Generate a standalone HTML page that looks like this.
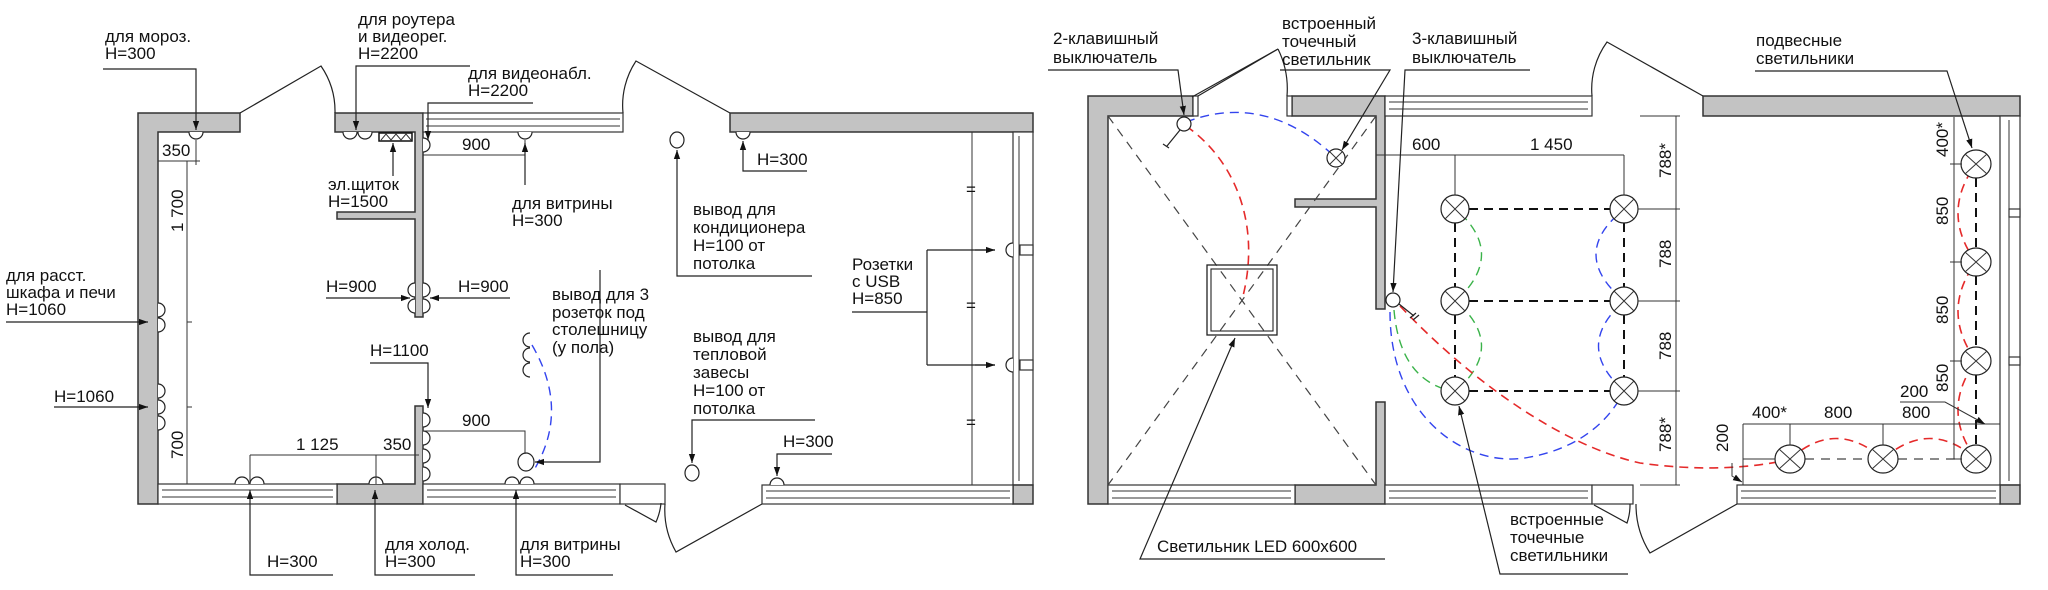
<!DOCTYPE html>
<html><head><meta charset="utf-8"><style>
html,body{margin:0;padding:0;background:#fff;}
svg{display:block;}
text{font-family:"Liberation Sans",sans-serif;font-size:17px;fill:#111;}
.w{fill:#c3c3c3;stroke:#333;stroke-width:1.5;}
.l{stroke:#222;stroke-width:1.2;fill:none;}
.t{stroke:#333;stroke-width:1;fill:none;}
.win{fill:#fff;stroke:#333;stroke-width:1.2;}
.gd{stroke:#444;stroke-width:1.2;stroke-dasharray:9,7;fill:none;}
.bd{stroke:#111;stroke-width:2;stroke-dasharray:9,6;fill:none;}
.rd{stroke:#e52a2a;stroke-width:1.6;stroke-dasharray:9,6;fill:none;}
.bl{stroke:#3344ee;stroke-width:1.4;stroke-dasharray:9,6;fill:none;}
.gr{stroke:#3bb34a;stroke-width:1.4;stroke-dasharray:9,6;fill:none;}
.s{stroke:#222;stroke-width:1.2;fill:#fff;}
</style></head><body>
<svg width="2048" height="590" viewBox="0 0 2048 590" xmlns="http://www.w3.org/2000/svg">
<defs>
<marker id="a" viewBox="0 0 10 10" refX="10" refY="5" markerWidth="9" markerHeight="9" orient="auto-start-reverse" markerUnits="userSpaceOnUse"><path d="M0,1.5 L10,5 L0,8.5z" fill="#111"/></marker>
</defs>

<!-- ================= LEFT PLAN ================= -->
<polygon class="w" points="138,113 240,113 240,132 158,132 158,504 138,504"/>
<polygon class="w" points="335,113 423,113 423,317 415,317 415,219 337,219 337,212 415,212 415,132 335,132"/>
<polygon class="w" points="415,406 423,406 423,504 337,504 337,484 415,484"/>
<!-- windows -->
<rect class="win" x="423" y="113" width="200" height="19"/><line class="t" x1="426" y1="119" x2="620" y2="119"/><line class="t" x1="426" y1="126" x2="620" y2="126"/>
<rect class="win" x="158" y="484" width="179" height="20"/><line class="t" x1="162" y1="490" x2="333" y2="490"/><line class="t" x1="162" y1="497" x2="333" y2="497"/>
<rect class="win" x="423" y="484" width="197" height="20"/><line class="t" x1="427" y1="490" x2="616" y2="490"/><line class="t" x1="427" y1="497" x2="616" y2="497"/>
<rect class="win" x="620" y="484" width="45" height="20"/>
<!-- doors -->
<path class="l" d="M240,113 L321,66 A80,80 0 0 1 335,113"/>
<path class="l" d="M623,113 A80,80 0 0 1 636,61 L730,113"/>
<path class="l" d="M625,505 L656,522 A60,60 0 0 0 661,503 M665,504 A85,85 0 0 0 676,552 L762,504"/>
<!-- right room -->
<rect class="w" x="730" y="113" width="303" height="19"/>
<rect class="win" x="1013" y="132" width="20" height="353"/><line class="t" x1="1019" y1="136" x2="1019" y2="481"/>
<rect class="w" x="1013" y="485" width="20" height="19"/>
<rect class="win" x="762" y="485" width="251" height="19"/><line class="t" x1="766" y1="491" x2="1010" y2="491"/><line class="t" x1="766" y1="498" x2="1010" y2="498"/>
<rect class="win" x="1020" y="245" width="13" height="10"/><rect class="win" x="1020" y="360" width="13" height="10"/>

<!-- sockets top -->
<path class="s" d="M189,132 A7,7 0 0 0 203,132"/>
<path class="s" d="M343,132 A7,7 0 0 0 357,132 M358,132 A7,7 0 0 0 372,132"/>
<path class="s" d="M518,132 A7,7 0 0 0 532,132"/>
<path class="s" d="M736,132 A7,7 0 0 0 750,132"/>
<path class="s" d="M423,138 A7,7 0 0 1 423,152"/>
<!-- panel -->
<rect x="379" y="133" width="33" height="8" fill="#fff" stroke="#111" stroke-width="1.5"/>
<path class="t" d="M381,140 l5,-6 l5,6 l5,-6 l5,6 l5,-6 l5,6"/>
<!-- left wall sockets -->
<path class="s" d="M158,303 A7,7 0 0 1 158,317 M158,318 A7,7 0 0 1 158,332"/>
<path class="s" d="M158,384 A7,7 0 0 1 158,398 M158,400 A7,7 0 0 1 158,414 M158,416 A7,7 0 0 1 158,430"/>
<!-- partition end sockets -->
<path class="s" d="M415,283 A7,7 0 0 0 415,297 M415,299 A7,7 0 0 0 415,313 M423,283 A7,7 0 0 1 423,297 M423,299 A7,7 0 0 1 423,313"/>
<path class="s" d="M423,413 A7,7 0 0 1 423,427 M423,431 A7,7 0 0 1 423,445 M423,449 A7,7 0 0 1 423,463 M423,467 A7,7 0 0 1 423,481"/>
<!-- bottom sockets -->
<path class="s" d="M235,484 A7,7 0 0 1 249,484 M250,484 A7,7 0 0 1 264,484"/>
<path class="s" d="M369,484 A7,7 0 0 1 383,484"/>
<path class="s" d="M505,484 A7,7 0 0 1 519,484 M520,484 A7,7 0 0 1 534,484"/>
<path class="s" d="M770,485 A7,7 0 0 1 784,485"/>
<!-- 3 sockets floating -->
<path class="s" d="M530,333 A7,7 0 0 0 530,347 M530,348 A7,7 0 0 0 530,362 M530,363 A7,7 0 0 0 530,377"/>
<!-- right wall sockets -->
<path class="s" d="M1013,243 A7,7 0 0 0 1013,257 M1013,358 A7,7 0 0 0 1013,372"/>
<!-- outlets -->
<ellipse class="s" cx="677" cy="140" rx="7" ry="8"/>
<ellipse class="s" cx="692" cy="473" rx="7" ry="8"/>
<ellipse class="s" cx="526" cy="462" rx="8" ry="9"/>
<path class="bl" d="M532,345 Q570,410 534,470"/>

<!-- dims left -->
<path class="t" d="M158,161 L200,161 M196,140 L196,165 M187,161 L187,484 M187,322 L192,322 M187,407 L192,407 M158,484 L192,484"/>
<text x="162" y="156" font-size="14">350</text>
<text transform="translate(183,232) rotate(-90)" font-size="14">1 700</text>
<text transform="translate(183,459) rotate(-90)" font-size="14">700</text>
<path class="t" d="M423,155 L525,155 M525,140 L525,160"/>
<text x="462" y="150" font-size="14">900</text>
<path class="t" d="M423,431 L525,431 L525,454"/>
<text x="462" y="426" font-size="14">900</text>
<path class="t" d="M250,455 L419,455 M250,455 L250,484 M376,455 L376,484"/>
<text x="296" y="450" font-size="14">1 125</text><text x="383" y="450" font-size="14">350</text>
<!-- dims right room -->
<path class="t" d="M972,132 L972,485 M965,132 L985,132 M965,485 L985,485"/>
<text x="966" y="195" font-size="10">=</text><text x="966" y="311" font-size="10">=</text><text x="966" y="428" font-size="10">=</text>

<!-- leaders left -->
<path class="l" d="M103,69 L196,69 L196,130" marker-end="url(#a)"/>
<text x="105" y="42">для мороз.</text><text x="105" y="59">H=300</text>
<path class="l" d="M470,66 L356,66 L356,130" marker-end="url(#a)"/>
<text x="358" y="25">для роутера</text><text x="358" y="42">и видеорег.</text><text x="358" y="59">H=2200</text>
<path class="l" d="M533,103 L428,103 L428,140" marker-end="url(#a)"/>
<text x="468" y="79">для видеонабл.</text><text x="468" y="96">H=2200</text>
<path class="l" d="M393,176 L393,143" marker-end="url(#a)"/>
<text x="328" y="190">эл.щиток</text><text x="328" y="207">H=1500</text>
<path class="l" d="M525,185 L525,143" marker-end="url(#a)"/>
<text x="512" y="209">для витрины</text><text x="512" y="226">H=300</text>
<path class="l" d="M6,322 L148,322" marker-end="url(#a)"/>
<text x="6" y="281">для расст.</text><text x="6" y="298">шкафа и печи</text><text x="6" y="315">H=1060</text>
<path class="l" d="M54,407 L148,407" marker-end="url(#a)"/>
<text x="54" y="402">H=1060</text>
<path class="l" d="M326,298 L410,298" marker-end="url(#a)"/>
<path class="l" d="M510,298 L430,298" marker-end="url(#a)"/>
<text x="326" y="292">H=900</text><text x="458" y="292">H=900</text>
<path class="l" d="M370,363 L428,363 L428,408" marker-end="url(#a)"/>
<text x="370" y="356">H=1100</text>
<path class="l" d="M600,270 L600,462 L535,462" marker-end="url(#a)"/>
<text x="552" y="300">вывод для 3</text><text x="552" y="318">розеток под</text><text x="552" y="335">столешницу</text><text x="552" y="353">(у пола)</text>
<path class="l" d="M333,575 L250,575 L250,490" marker-end="url(#a)"/>
<text x="267" y="567">H=300</text>
<path class="l" d="M475,575 L375,575 L375,490" marker-end="url(#a)"/>
<text x="385" y="550">для холод.</text><text x="385" y="567">H=300</text>
<path class="l" d="M613,575 L516,575 L516,490" marker-end="url(#a)"/>
<text x="520" y="550">для витрины</text><text x="520" y="567">H=300</text>
<!-- leaders right room -->
<path class="l" d="M807,171 L743,171 L743,141" marker-end="url(#a)"/>
<text x="757" y="165">H=300</text>
<path class="l" d="M812,276 L677,276 L677,150" marker-end="url(#a)"/>
<text x="693" y="215">вывод для</text><text x="693" y="233">кондиционера</text><text x="693" y="251">H=100 от</text><text x="693" y="269">потолка</text>
<path class="l" d="M815,420 L692,420 L692,463" marker-end="url(#a)"/>
<text x="693" y="342">вывод для</text><text x="693" y="360">тепловой</text><text x="693" y="378">завесы</text><text x="693" y="396">H=100 от</text><text x="693" y="414">потолка</text>
<path class="l" d="M832,454 L777,454 L777,476" marker-end="url(#a)"/>
<text x="783" y="447">H=300</text>
<path class="l" d="M852,312 L927,312 M927,250 L927,365 M927,250 L995,250 M927,365 L995,365"/>
<path class="l" d="M975,250 L995,250" marker-end="url(#a)"/><path class="l" d="M975,365 L995,365" marker-end="url(#a)"/>
<text x="852" y="270">Розетки</text><text x="852" y="287">с USB</text><text x="852" y="304">H=850</text>

<!-- ================= RIGHT PLAN ================= -->
<polygon class="w" points="1088,96 1193,96 1193,116 1108,116 1108,504 1088,504"/>
<polygon class="w" points="1292,96 1385,96 1385,309 1376,309 1376,207 1295,207 1295,199 1376,199 1376,116 1292,116"/>
<polygon class="w" points="1376,402 1385,402 1385,504 1295,504 1295,485 1376,485"/>
<rect class="win" x="1193" y="96" width="5" height="20"/><rect class="win" x="1287" y="96" width="5" height="20"/>
<rect class="win" x="1385" y="96" width="207" height="20"/><line class="t" x1="1389" y1="102" x2="1588" y2="102"/><line class="t" x1="1389" y1="109" x2="1588" y2="109"/>
<rect class="w" x="1703" y="96" width="317" height="20"/>
<rect class="win" x="2000" y="116" width="20" height="369"/><line class="t" x1="2009" y1="120" x2="2009" y2="481"/>
<rect class="win" x="2009" y="209" width="11" height="8"/><rect class="win" x="2009" y="357" width="11" height="8"/>
<rect class="w" x="2000" y="485" width="20" height="19"/>
<rect class="win" x="1108" y="485" width="187" height="19"/><line class="t" x1="1112" y1="491" x2="1291" y2="491"/><line class="t" x1="1112" y1="498" x2="1291" y2="498"/>
<rect class="win" x="1385" y="485" width="207" height="19"/><line class="t" x1="1389" y1="491" x2="1588" y2="491"/><line class="t" x1="1389" y1="498" x2="1588" y2="498"/>
<rect class="win" x="1592" y="485" width="41" height="19"/>
<rect class="win" x="1737" y="485" width="263" height="19"/><line class="t" x1="1741" y1="491" x2="1996" y2="491"/><line class="t" x1="1741" y1="498" x2="1996" y2="498"/>
<!-- doors -->
<path class="l" d="M1198,96 L1278,49 M1287,96 A90,90 0 0 0 1278,49"/>
<path class="l" d="M1592,96 A80,80 0 0 1 1607,42 L1703,96"/>
<path class="l" d="M1594,505 L1627,523 A55,55 0 0 0 1630,504 M1636,504 A90,90 0 0 0 1650,553 L1737,504"/>
<!-- diagonals -->
<path class="gd" d="M1108,116 L1376,485 M1376,116 L1108,485"/>
<!-- LED panel -->
<rect x="1207" y="265" width="70" height="70" fill="none" stroke="#222" stroke-width="1.3"/>
<rect x="1211" y="269" width="62" height="62" fill="none" stroke="#222" stroke-width="1.1"/>
<!-- wires -->
<path class="rd" d="M1186,126 C1235,160 1262,225 1242,300"/>
<path class="bl" d="M1186,122 Q1265,92 1334,156"/>
<path class="bl" d="M1390,312 C1390,420 1470,470 1530,457 C1580,448 1610,420 1624,391"/>
<path class="bl" d="M1622,389 Q1575,346 1622,303 M1622,299 Q1570,254 1622,211"/>
<path class="gr" d="M1394,310 Q1400,380 1452,391"/>
<path class="gr" d="M1458,389 Q1505,346 1458,303 M1458,299 Q1505,254 1458,211"/>
<path class="rd" stroke-width="1.3" d="M1400,306 C1470,380 1560,445 1640,463 C1690,470 1740,470 1788,460"/>
<path class="rd" stroke-width="1.3" d="M1790,459 Q1836,418 1883,459 Q1930,418 1976,459 Q1940,410 1976,361 Q1940,311 1976,262 Q1940,213 1976,164"/>
<!-- grid -->
<path class="bd" d="M1469,209 L1610,209 M1469,301 L1610,301 M1469,391 L1610,391 M1455,223 L1455,287 M1455,315 L1455,377 M1624,223 L1624,287 M1624,315 L1624,377"/>
<path class="bd" d="M1976,178 L1976,248 M1976,276 L1976,347 M1976,375 L1976,445"/>
<path class="gd" stroke-width="1" d="M1805,459 L1868,459 M1898,459 L1961,459"/>
<!-- lights -->
<g class="s">
<ellipse cx="1455" cy="209" rx="14" ry="14"/><ellipse cx="1455" cy="301" rx="14" ry="14"/><ellipse cx="1455" cy="391" rx="14" ry="14"/>
<ellipse cx="1624" cy="209" rx="14" ry="14"/><ellipse cx="1624" cy="301" rx="14" ry="14"/><ellipse cx="1624" cy="391" rx="14" ry="14"/>
<ellipse cx="1976" cy="164" rx="15" ry="14"/><ellipse cx="1976" cy="262" rx="15" ry="14"/><ellipse cx="1976" cy="361" rx="15" ry="14"/><ellipse cx="1976" cy="459" rx="15" ry="14"/>
<ellipse cx="1790" cy="459" rx="15" ry="14"/><ellipse cx="1883" cy="459" rx="15" ry="14"/>
<ellipse cx="1336" cy="158" rx="9" ry="9"/>
</g>
<path class="t" stroke-width="1.2" d="M1445,199 l20,20 m0,-20 l-20,20 M1445,291 l20,20 m0,-20 l-20,20 M1445,381 l20,20 m0,-20 l-20,20 M1614,199 l20,20 m0,-20 l-20,20 M1614,291 l20,20 m0,-20 l-20,20 M1614,381 l20,20 m0,-20 l-20,20 M1965,154 l22,20 m0,-20 l-22,20 M1965,252 l22,20 m0,-20 l-22,20 M1965,351 l22,20 m0,-20 l-22,20 M1965,449 l22,20 m0,-20 l-22,20 M1779,449 l22,20 m0,-20 l-22,20 M1872,449 l22,20 m0,-20 l-22,20 M1330,152 l12,12 m0,-12 l-12,12"/>
<!-- switches -->
<circle class="s" cx="1184" cy="124" r="7"/><path class="l" d="M1180,130 L1167,146 M1163,144 l6,4"/>
<circle class="s" cx="1393" cy="300" r="7"/><path class="l" stroke-width="2" d="M1399,304 L1414,316 M1410,318 l6,-5 M1413,320 l6,-5"/>
<!-- dims right plan -->
<path class="t" d="M1376,155 L1624,155 M1455,155 L1455,195 M1624,155 L1624,195"/>
<text x="1412" y="150" font-size="15">600</text><text x="1530" y="150" font-size="15">1 450</text>
<path class="t" d="M1640,116 L1680,116 M1676,116 L1676,485 M1638,209 L1680,209 M1638,301 L1680,301 M1638,391 L1680,391 M1640,485 L1680,485"/>
<text transform="translate(1671,178) rotate(-90)" font-size="15">788*</text>
<text transform="translate(1671,268) rotate(-90)" font-size="15">788</text>
<text transform="translate(1671,360) rotate(-90)" font-size="15">788</text>
<text transform="translate(1671,452) rotate(-90)" font-size="15">788*</text>
<path class="t" d="M1954,117 L1954,459 M1950,164 L1962,164 M1950,262 L1962,262 M1950,361 L1962,361 M1950,459 L1962,459"/>
<text transform="translate(1948,157) rotate(-90)" font-size="15">400*</text>
<text transform="translate(1948,225) rotate(-90)" font-size="15">850</text>
<text transform="translate(1948,324) rotate(-90)" font-size="15">850</text>
<text transform="translate(1948,392) rotate(-90)" font-size="15">850</text>
<path class="t" d="M1743,424 L2000,424 M1743,424 L1743,485 M1790,424 L1790,445 M1883,424 L1883,445 M1743,459 L1775,459"/>
<text x="1752" y="418" font-size="15">400*</text><text x="1824" y="418" font-size="15">800</text><text x="1902" y="418" font-size="15">800</text>
<text x="1900" y="397" font-size="15">200</text>
<path class="t" d="M1900,402 L1945,402 L1985,424" marker-end="url(#a)"/>
<text transform="translate(1728,452) rotate(-90)" font-size="15">200</text>
<path class="t" d="M1732,463 L1732,476 L1742,482" marker-end="url(#a)"/>
<!-- leaders right plan -->
<path class="l" d="M1048,70 L1178,70 L1184,115" marker-end="url(#a)"/>
<text x="1053" y="44">2-клавишный</text><text x="1053" y="63">выключатель</text>
<path class="l" d="M1192,97 L1278,49"/>
<path class="l" d="M1280,70 L1390,70 L1342,150" marker-end="url(#a)"/>
<text x="1282" y="29">встроенный</text><text x="1282" y="47">точечный</text><text x="1282" y="65">светильник</text>
<path class="l" d="M1530,70 L1405,70 L1393,292" marker-end="url(#a)"/>
<text x="1412" y="44">3-клавишный</text><text x="1412" y="63">выключатель</text>
<path class="l" d="M1385,559 L1140,559 L1235,338" marker-end="url(#a)"/>
<text x="1157" y="552">Светильник LED 600x600</text>
<path class="l" d="M1628,574 L1500,574 L1459,406" marker-end="url(#a)"/>
<text x="1510" y="525">встроенные</text><text x="1510" y="543">точечные</text><text x="1510" y="561">светильники</text>
<path class="l" d="M1755,71 L1947,71 L1972,148" marker-end="url(#a)"/>
<text x="1756" y="46">подвесные</text><text x="1756" y="64">светильники</text>
</svg>
</body></html>
